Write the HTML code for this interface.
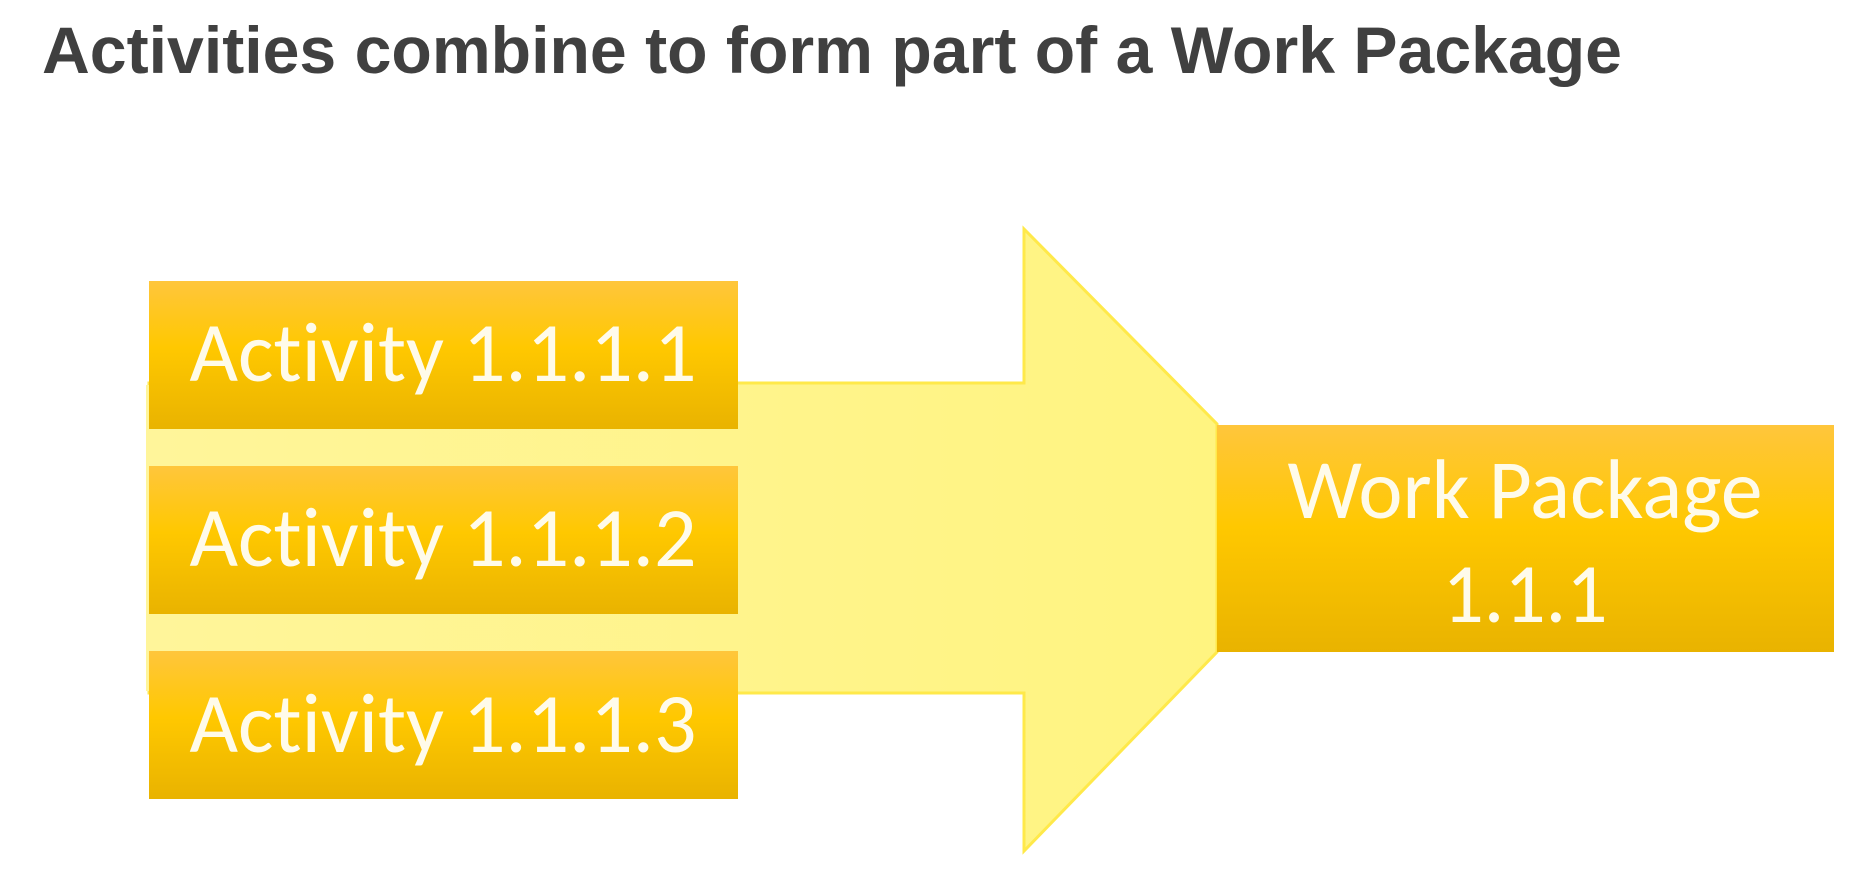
<!DOCTYPE html>
<html><head><style>html,body{margin:0;padding:0;background:#fff;width:1867px;height:877px;overflow:hidden}</style></head>
<body>
<svg width="1867" height="877" viewBox="0 0 1867 877" xmlns="http://www.w3.org/2000/svg">
<defs>
<linearGradient id="g" x1="0" y1="0" x2="0" y2="1">
<stop offset="0" stop-color="#FFC63C"/><stop offset="0.45" stop-color="#FFC800"/><stop offset="1" stop-color="#E9B300"/>
</linearGradient>
<linearGradient id="a" x1="0" y1="0" x2="1" y2="0">
<stop offset="0" stop-color="#FFF59A"/><stop offset="1" stop-color="#FFF480"/>
</linearGradient>
</defs>
<text x="42" y="73" font-family="Liberation Sans, Arial, sans-serif" font-weight="bold" font-size="66" fill="#404040" textLength="1580" lengthAdjust="spacingAndGlyphs">Activities combine to form part of a Work Package</text>
<polygon points="149,383 1024,383 1024,229 1217,424 1217,652 1024,851 1024,693 149,693" fill="url(#a)" stroke="#FFE94A" stroke-width="3"/>
<rect x="146" y="385" width="10" height="306" fill="#FFF59A"/>
<rect x="149" y="281" width="589" height="148" fill="url(#g)"/>
<rect x="149" y="466" width="589" height="148" fill="url(#g)"/>
<rect x="149" y="651" width="589" height="148" fill="url(#g)"/>
<rect x="1217" y="425" width="617" height="227" fill="url(#g)"/>
<g font-family="Carlito, Calibri, Liberation Sans, sans-serif" font-size="84" fill="#FFFBEA" text-anchor="middle" style="font-variant-ligatures:none">
<text x="443" y="381" textLength="507" lengthAdjust="spacingAndGlyphs">Activity 1.1.1.1</text>
<text x="443" y="566" textLength="507" lengthAdjust="spacingAndGlyphs">Activity 1.1.1.2</text>
<text x="443" y="752" textLength="507" lengthAdjust="spacingAndGlyphs">Activity 1.1.1.3</text>
<text x="1525" y="518" textLength="475" lengthAdjust="spacingAndGlyphs">Work Package</text>
<text x="1525" y="622" textLength="165" lengthAdjust="spacingAndGlyphs">1.1.1</text>
</g>
</svg>
</body></html>
